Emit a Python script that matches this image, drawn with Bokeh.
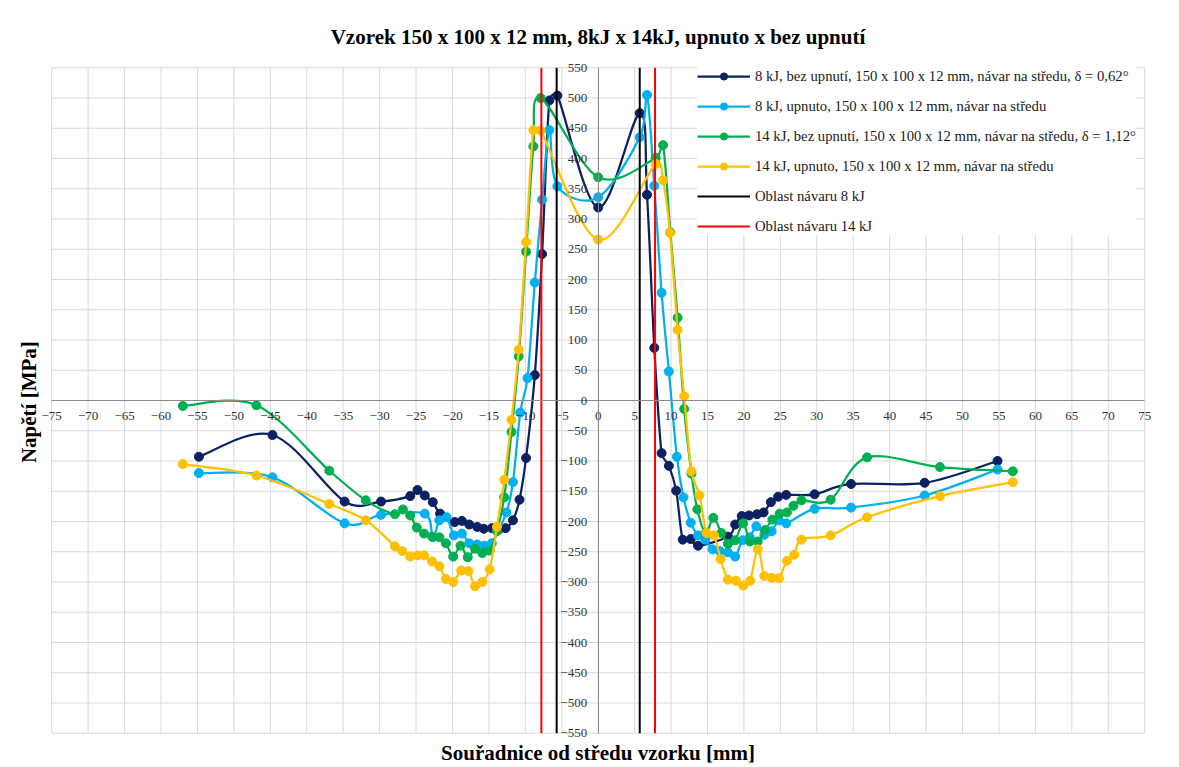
import math
from bokeh.plotting import figure
from bokeh.models import FixedTicker, Title, Range1d
from bokeh.embed import file_html
from bokeh.resources import INLINE

# ---------------- data ----------------
title_text = "Vzorek 150 x 100 x 12 mm, 8kJ x 14kJ, upnuto x bez upnutí"
x_title = "Souřadnice od středu vzorku [mm]"
y_title = "Napětí  [MPa]"

x_ticks = [-75, -70, -65, -60, -55, -50, -45, -40, -35, -30, -25, -20, -15, -10, -5, 0,
           5, 10, 15, 20, 25, 30, 35, 40, 45, 50, 55, 60, 65, 70, 75]
y_ticks = [-550, -500, -450, -400, -350, -300, -250, -200, -150, -100, -50, 0,
           50, 100, 150, 200, 250, 300, 350, 400, 450, 500, 550]

s1_label = "8 kJ, bez upnutí, 150 x 100 x 12 mm, návar na středu, δ = 0,62°"
s1_x = [-54.8, -44.7, -34.8, -29.8, -25.8, -24.8, -23.8, -22.7, -21.7, -19.7, -18.7, -17.7,
        -16.6, -15.7, -14.6, -13.7, -12.7, -11.7, -10.8, -9.9, -8.7, -7.7, -6.7, -5.6, 0.0,
        5.7, 6.7, 7.7, 8.7, 9.7, 10.7, 11.6, 12.7, 13.7, 17.8, 18.8, 19.7, 20.7, 21.8, 22.7,
        23.7, 24.7, 25.8, 29.7, 34.7, 44.8, 54.8]
s1_y = [-93, -57, -167, -167, -158, -148, -157, -168, -187, -201, -199, -205,
        -209, -212, -211, -214, -211, -198, -164, -95, 42, 242, 496, 504, 319,
        475, 340, 87, -87, -108, -149, -230, -229, -240, -225, -205, -191, -190, -188, -185,
        -168, -159, -156, -155, -138, -136, -100]

s2_label = "8 kJ, upnuto, 150 x 100 x 12 mm, návar na středu"
s2_x = [-54.8, -44.7, -34.8, -29.8, -23.8, -22.7, -21.8, -20.8, -19.8, -18.7, -17.7, -16.6,
        -15.6, -14.6, -12.6, -11.7, -10.7, -9.7, -8.7, -7.7, -6.7, -5.6, 0.0, 5.7, 6.7, 7.7,
        8.7, 9.7, 10.8, 11.7, 12.7, 13.7, 14.7, 15.7, 16.7, 17.8, 18.8, 19.8, 20.8, 21.7,
        22.8, 23.8, 24.8, 25.8, 29.7, 34.7, 44.8, 54.8]
s2_y = [-120, -127, -203, -189, -187, -226, -198, -193, -223, -220, -236, -238,
        -240, -236, -185, -135, -20, 37, 195, 332, 447, 354, 336, 435, 505, 355,
        178, 48, -93, -160, -202, -223, -230, -246, -249, -251, -258, -231, -226, -208,
        -222, -216, -198, -203, -179, -177, -157, -114]

s3_label = "14 kJ, bez upnutí, 150 x 100 x 12 mm, návar na středu, δ = 1,12°"
s3_x = [-57.0, -46.9, -36.9, -31.9, -27.9, -26.8, -25.8, -24.9, -23.9, -22.8, -21.8, -20.9,
        -19.9, -18.9, -17.9, -16.9, -15.9, -14.9, -13.9, -12.9, -11.9, -10.9, -9.9, -8.9,
        -7.9, 0.0, 7.9, 8.9, 9.9, 10.9, 11.8, 12.8, 13.6, 14.75, 15.8, 16.9, 17.8, 18.8,
        19.9, 20.8, 21.9, 22.9, 23.9, 24.9, 25.9, 26.8, 27.9, 31.9, 36.9, 46.9, 56.9]
s3_y = [-9, -8, -116, -165, -188, -180, -190, -210, -220, -225, -226, -236,
        -258, -240, -259, -245, -252, -248, -216, -160, -52, 73, 246, 420,
        500, 369, 401, 422, 278, 137, -14, -121, -180, -219, -194, -219, -237, -231,
        -203, -233, -233, -214, -197, -187, -185, -174, -165, -164, -94, -110, -117]

s4_label = "14 kJ, upnuto, 150 x 100 x 12 mm, návar na středu"
s4_x = [-57.0, -46.9, -36.9, -31.9, -27.9, -26.9, -25.8, -24.8, -23.9, -22.8, -21.8, -20.9,
        -19.9, -18.8, -17.8, -16.9, -15.9, -14.9, -13.9, -12.9, -11.9, -10.9, -9.9, -8.9,
        -7.9, 0.0, 7.9, 8.9, 9.85, 10.9, 11.8, 12.8, 13.9, 14.85, 15.9, 16.8, 17.8, 18.9,
        19.9, 20.85, 21.9, 22.8, 23.8, 24.8, 25.9, 26.9, 27.9, 31.9, 36.9, 46.9, 56.9]
s4_y = [-105, -124, -171, -198, -241, -249, -258, -256, -256, -266, -274, -295,
        -300, -281, -282, -307, -300, -279, -209, -131, -32, 84, 262, 447,
        446, 266, 391, 364, 277, 117, 7, -117, -157, -219, -223, -262, -296, -298,
        -306, -298, -246, -290, -293, -294, -265, -255, -230, -223, -193, -158, -135]

zone8_label = "Oblast návaru 8 kJ"
zone8_x = [-5.7, 5.7]
zone14_label = "Oblast návaru 14 kJ"
zone14_x = [-7.8, 7.8]

y_min, y_max = -550, 550
x_min, x_max = -75, 75

# ---------------- layout / styles ----------------
SERIF = "Liberation Serif"
c_navy = "#0B2161"
c_cyan = "#00B0F0"
c_green = "#00B050"
c_yellow = "#FFC000"
grid_c = "#D9D9D9"

W, H = 1179, 767
F_L, F_R, F_T, F_B = 40, 1155, 58, 740          # frame box in pixels
GX0, GX1, GY0, GY1 = 51.2, 1144.2, 67.25, 732.75  # where -75/75 and 550/-550 fall
ppx = (GX1 - GX0) / (x_max - x_min)
ppy = (GY1 - GY0) / (y_max - y_min)
xr = Range1d(x_min - (GX0 - F_L) / ppx, x_max + (F_R - GX1) / ppx)
yr = Range1d(y_min - (F_B - GY1) / ppy, y_max + (GY0 - F_T) / ppy)


def smooth_controls(xs, ys):
    """Control handles for a smoothed (spreadsheet-style) line through the given points.
    Computed in pixel space, with handles capped so short segments do not overshoot."""
    n = len(xs)
    P = [(x * ppx, y * ppy) for x, y in zip(xs, ys)]
    tang = []
    for i in range(n):
        a = P[i - 1] if i > 0 else P[i]
        b = P[i + 1] if i < n - 1 else P[i]
        dx, dy = b[0] - a[0], b[1] - a[1]
        L = math.hypot(dx, dy) or 1.0
        tang.append((dx / L, dy / L, L))
    out = {k: [] for k in ("x0", "y0", "x1", "y1", "cx0", "cy0", "cx1", "cy1")}
    for i in range(n - 1):
        seg = math.hypot(P[i + 1][0] - P[i][0], P[i + 1][1] - P[i][1])
        ux, uy, L0 = tang[i]
        vx, vy, L1 = tang[i + 1]
        a0 = min(L0 / 6.0, seg / 2.0)
        a1 = min(L1 / 6.0, seg / 2.0)
        out["x0"].append(xs[i]); out["y0"].append(ys[i])
        out["x1"].append(xs[i + 1]); out["y1"].append(ys[i + 1])
        out["cx0"].append((P[i][0] + ux * a0) / ppx)
        out["cy0"].append((P[i][1] + uy * a0) / ppy)
        out["cx1"].append((P[i + 1][0] - vx * a1) / ppx)
        out["cy1"].append((P[i + 1][1] - vy * a1) / ppy)
    return out


p = figure(width=W, height=H, output_backend="svg", toolbar_location=None,
           x_range=xr, y_range=yr,
           min_border_left=F_L, min_border_right=W - F_R,
           min_border_top=F_T, min_border_bottom=H - F_B)

p.title.text = title_text
p.title.align = "center"
p.title.text_font = SERIF
p.title.text_font_size = "21px"
p.title.text_font_style = "bold"
p.title.text_color = "#000000"
p.title.standoff = 20

p.add_layout(Title(text=x_title, align="center", vertical_align="top", text_font=SERIF,
                   text_font_size="21px", text_font_style="bold", text_color="#000000",
                   standoff=0), "below")
p.add_layout(Title(text=y_title, align="center", text_font=SERIF, text_font_size="21px",
                   text_font_style="bold", text_color="#000000", standoff=0), "left")

p.outline_line_color = None
p.background_fill_color = "white"
p.grid.visible = False

# gridlines (drawn from the tick arrays)
p.segment(x0=x_ticks, y0=[y_min] * len(x_ticks), x1=x_ticks, y1=[y_max] * len(x_ticks),
          line_color=grid_c, line_width=1)
p.segment(x0=[x_min] * len(y_ticks), y0=y_ticks, x1=[x_max] * len(y_ticks), y1=y_ticks,
          line_color=grid_c, line_width=1)

for ax, ticks, bnds in ((p.xaxis, x_ticks, (x_min, x_max)), (p.yaxis, y_ticks, (y_min, y_max))):
    ax.ticker = FixedTicker(ticks=ticks)
    ax.fixed_location = 0
    ax.bounds = bnds
    ax.axis_line_color = "#8C8C8C"
    ax.axis_line_width = 1
    ax.major_tick_line_color = None
    ax.minor_tick_line_color = None
    ax.major_label_text_font = SERIF
    ax.major_label_text_font_size = "13px"
    ax.major_label_text_color = "#333333"
    ax.major_label_standoff = 5

for xs, ys, col, lab in ((s1_x, s1_y, c_navy, s1_label),
                         (s2_x, s2_y, c_cyan, s2_label),
                         (s3_x, s3_y, c_green, s3_label),
                         (s4_x, s4_y, c_yellow, s4_label)):
    c = smooth_controls(xs, ys)
    p.bezier(x0=c["x0"], y0=c["y0"], x1=c["x1"], y1=c["y1"],
             cx0=c["cx0"], cy0=c["cy0"], cx1=c["cx1"], cy1=c["cy1"],
             line_color=col, line_width=2.25, legend_label=lab)
    p.scatter(xs, ys, marker="circle", size=9, fill_color=col, line_color=col, legend_label=lab)

p.segment(x0=zone8_x, y0=[y_min] * len(zone8_x), x1=zone8_x, y1=[y_max] * len(zone8_x),
          line_color="#000000", line_width=2, legend_label=zone8_label)
p.segment(x0=zone14_x, y0=[y_min] * len(zone14_x), x1=zone14_x, y1=[y_max] * len(zone14_x),
          line_color="#FF0000", line_width=2, legend_label=zone14_label)

lg = p.legend[0]
lg.location = (697 - F_L, F_B - 235)
lg.margin = 0
lg.padding = 0
lg.spacing = 12
lg.glyph_width = 53
lg.glyph_height = 18
lg.label_height = 18
lg.label_standoff = 5
lg.label_text_font = SERIF
lg.label_text_font_size = "14.7px"
lg.label_text_color = "#1A1A1A"
lg.border_line_color = None
lg.background_fill_color = "white"
lg.background_fill_alpha = 1.0

open("out.html", "w").write(file_html(p, INLINE))
